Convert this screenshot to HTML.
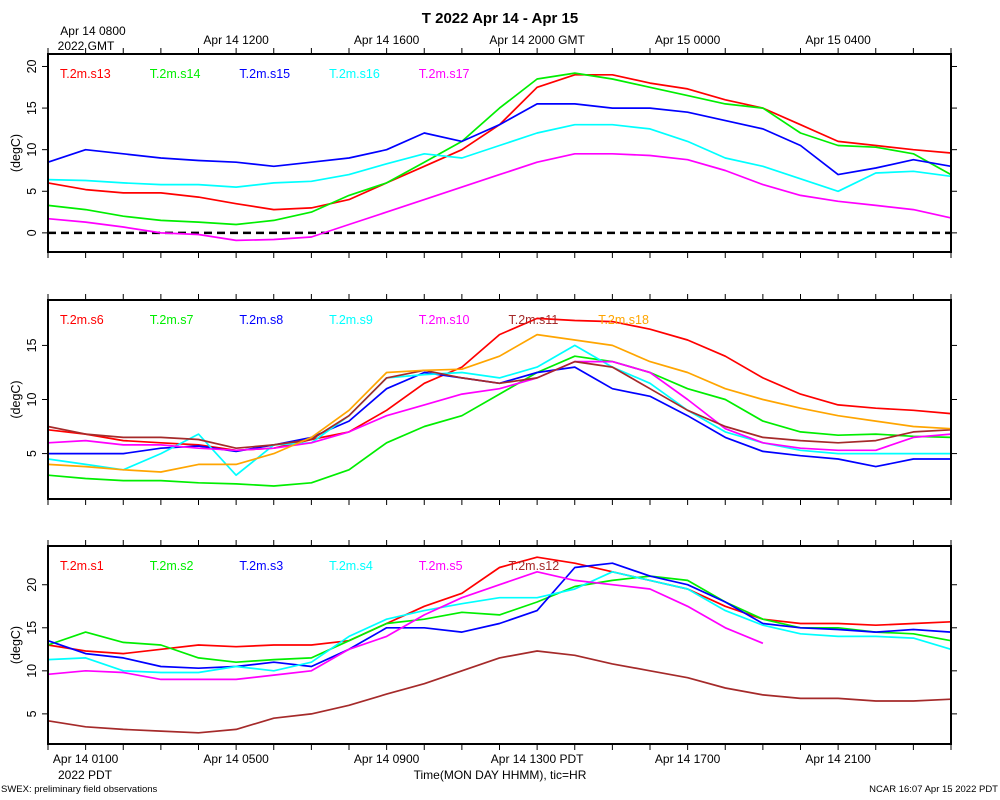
<!DOCTYPE html>
<html><head><meta charset="utf-8"><style>
body{margin:0;background:#fff;}
svg{display:block;font-family:"Liberation Sans",sans-serif;}
</style></head><body>
<svg id="chart" width="1000" height="800" viewBox="0 0 1000 800"></svg>
<script>
// ---- data (hourly, hours since Apr 14 0000 PDT) ----
const hours = [0,1,2,3,4,5,6,7,8,9,10,11,12,13,14,15,16,17,18,19,20,21,22,23,24];
const s13 = [6,5.2,4.8,4.8,4.3,3.5,2.8,3,4,6,8,10,13,17.5,19,19,18,17.3,16,15,13,11,10.5,10,9.6];
const s14 = [3.3,2.8,2,1.5,1.3,1,1.5,2.5,4.5,6,8.5,11,15,18.5,19.2,18.5,17.5,16.5,15.5,15,12,10.5,10.3,9.5,7];
const s15 = [8.5,10,9.5,9,8.7,8.5,8,8.5,9,10,12,11,13,15.5,15.5,15,15,14.5,13.5,12.5,10.5,7,7.8,8.8,8];
const s16 = [6.4,6.3,6,5.8,5.8,5.5,6,6.2,7,8.3,9.5,9,10.5,12,13,13,12.5,11,9,8,6.5,5,7.2,7.4,6.8];
const s17 = [1.7,1.3,0.7,0,-0.2,-0.9,-0.8,-0.5,1,2.5,4,5.5,7,8.5,9.5,9.5,9.3,8.8,7.5,5.8,4.5,3.8,3.3,2.8,1.8];
const s6 = [7.2,6.8,6.2,6,5.8,5.3,5.5,6.3,7,9,11.5,13,16,17.5,17.3,17.2,16.5,15.5,14,12,10.5,9.5,9.2,9,8.7];
const s7 = [3,2.7,2.5,2.5,2.3,2.2,2,2.3,3.5,6,7.5,8.5,10.5,12.5,14,13.5,12.5,11,10,8,7,6.7,6.8,6.6,6.5];
const s8 = [5,5,5,5.5,5.7,5.2,5.8,6.5,8,11,12.5,12,11.5,12.5,13,11,10.3,8.5,6.5,5.2,4.8,4.5,3.8,4.5,4.5];
const s9 = [4.5,4,3.5,5,6.8,3,5.8,6,8.5,12,12.3,12.5,12,13,15,13,11.5,9,7,6,5.3,5,5,5,5];
const s10 = [6,6.2,5.8,5.8,5.5,5.3,5.5,6,7,8.5,9.5,10.5,11,12,13.5,13.5,12.5,10,7.3,6,5.5,5.3,5.3,6.5,6.8];
const s11 = [7.5,6.8,6.5,6.5,6.3,5.5,5.8,6.3,8.5,12,12.7,12,11.5,12,13.5,13,11,9,7.5,6.5,6.2,6,6.2,7,7.2];
const s18 = [4,3.8,3.5,3.3,4,4,5,6.5,9,12.5,12.7,12.8,14,16,15.5,15,13.5,12.5,11,10,9.2,8.5,8,7.5,7.3];
const s1 = [13,12.3,12,12.5,13,12.8,13,13,13.5,15.5,17.5,19,22,23.2,22.5,21.5,20.5,19.5,17.5,16,15.5,15.5,15.3,15.5,15.7];
const s2 = [13,14.5,13.3,13,11.5,11,11.3,11.5,13.5,15.5,16,16.8,16.5,18,19.8,20.5,21,20.5,18,16,15,15,14.5,14.3,13.5];
const s3 = [13.5,12,11.5,10.5,10.3,10.5,11,10.5,12.5,15,15,14.5,15.5,17,22,22.5,21,20,18,15.5,15,14.8,14.5,14.8,14.5];
const s4 = [11.3,11.5,10,9.8,9.8,10.5,10,11,14,16,17,17.8,18.5,18.5,19.5,21.5,20.5,19.5,17,15.3,14.3,14,14,13.8,12.5];
const s5 = [9.6,10,9.8,9,9,9,9.5,10,12.5,14,16.5,18.5,20,21.5,20.5,20,19.5,17.5,15,13.2,null,null,null,null,null];
const s12 = [4.2,3.5,3.2,3,2.8,3.2,4.5,5,6,7.3,8.5,10,11.5,12.3,11.8,10.8,10,9.2,8,7.2,6.8,6.8,6.5,6.5,6.7];
const topLabels = ["Apr 14 1200","Apr 14 1600","Apr 14 2000 GMT","Apr 15 0000","Apr 15 0400"];
const topLabelHours = [5,9,13,17,21];
const bottomLabels = ["Apr 14 0100","Apr 14 0500","Apr 14 0900","Apr 14 1300 PDT","Apr 14 1700","Apr 14 2100"];
const bottomLabelHours = [1,5,9,13,17,21];

const NS="http://www.w3.org/2000/svg";
const svg=document.getElementById('chart');
function mk(tag,attrs,parent){const e=document.createElementNS(NS,tag);for(const k in attrs)e.setAttribute(k,attrs[k]);(parent||svg).appendChild(e);return e;}
const X0=48,X1=951;
function xs(h){return X0+(X1-X0)*h/24;}

const panels=[
 {name:'panel-top',top:54,bot:252,ymin:-2.3,ymax:21.5,ticks:[0,5,10,15,20],
  series:[['T.2m.s13',s13,'#ff0000'],['T.2m.s14',s14,'#00ee00'],['T.2m.s15',s15,'#0000ff'],['T.2m.s16',s16,'#00ffff'],['T.2m.s17',s17,'#ff00ff']],zero:true},
 {name:'panel-middle',top:300,bot:499,ymin:0.8,ymax:19.2,ticks:[5,10,15],
  series:[['T.2m.s6',s6,'#ff0000'],['T.2m.s7',s7,'#00ee00'],['T.2m.s8',s8,'#0000ff'],['T.2m.s9',s9,'#00ffff'],['T.2m.s10',s10,'#ff00ff'],['T.2m.s11',s11,'#a52a2a'],['T.2m.s18',s18,'#ffa500']]},
 {name:'panel-bottom',top:546,bot:744,ymin:1.5,ymax:24.5,ticks:[5,10,15,20],
  series:[['T.2m.s1',s1,'#ff0000'],['T.2m.s2',s2,'#00ee00'],['T.2m.s3',s3,'#0000ff'],['T.2m.s4',s4,'#00ffff'],['T.2m.s5',s5,'#ff00ff'],['T.2m.s12',s12,'#a52a2a']]}
];

const title=mk('text',{x:500,y:23,'text-anchor':'middle','font-size':15,'font-weight':'bold'});
title.textContent='T 2022 Apr 14 - Apr 15';



panels.forEach((p,pi)=>{
  const g=mk('g',{});
  
  
  const ys=v=>p.bot-(v-p.ymin)/(p.ymax-p.ymin)*(p.bot-p.top);
  for(let h=0;h<=24;h++){
    const x=xs(h);
    mk('line',{x1:x,x2:x,y1:p.top,y2:p.top-6,stroke:'#000','stroke-width':1},g);
    mk('line',{x1:x,x2:x,y1:p.bot,y2:p.bot+6,stroke:'#000','stroke-width':1},g);
  }
  p.ticks.forEach(t=>{
    const y=ys(t);
    mk('line',{x1:X0,x2:X0-6,y1:y,y2:y,stroke:'#000'},g);
    mk('line',{x1:X1,x2:X1+6,y1:y,y2:y,stroke:'#000'},g);
    const tx=mk('text',{x:36,y:y,'font-size':12.5,'text-anchor':'middle',transform:`rotate(-90 36 ${y})`},g);
    tx.textContent=String(t);
    
    
  });
  const yl=mk('text',{x:20,y:(p.top+p.bot)/2,'font-size':12.5,'text-anchor':'middle',transform:`rotate(-90 20 ${(p.top+p.bot)/2})`},g);
  yl.textContent='(degC)';
  
  
  if(p.zero){
    const z=mk('line',{x1:X0,x2:X1,y1:ys(0),y2:ys(0),stroke:'#000','stroke-width':2.5,'stroke-dasharray':'8,5'},g);
    
    
  }
  p.series.forEach((s,si)=>{
    let d='';let pen=false;
    s[1].forEach((v,i)=>{
      if(v===null){pen=false;return;}
      d+=(pen?'L':'M')+xs(hours[i]).toFixed(1)+','+ys(v).toFixed(1);pen=true;
    });
    const path=mk('path',{d:d,fill:'none',stroke:s[2],'stroke-width':1.7,'stroke-linejoin':'round'},g);
    
    
    const lt=mk('text',{x:60+si*89.7,y:p.top+24,'font-size':12.5,fill:s[2]},g);
    lt.textContent=s[0];
    
    
  });
  const fr=mk('rect',{x:X0,y:p.top,width:X1-X0,height:p.bot-p.top,fill:'none',stroke:'#000','stroke-width':2},g);
  
  
});

const t0=mk('text',{x:93,y:35,'font-size':12,'text-anchor':'middle'});
t0.textContent='Apr 14 0800';


const t1=mk('text',{x:86,y:50,'font-size':12,'text-anchor':'middle'});
t1.textContent='2022 GMT';


topLabels.forEach((l,i)=>{
  const t=mk('text',{x:xs(topLabelHours[i]),y:44,'font-size':12,'text-anchor':'middle'});
  t.textContent=l;
  
  
});
bottomLabels.forEach((l,i)=>{
  const t=mk('text',{x:xs(bottomLabelHours[i]),y:763,'font-size':12,'text-anchor':'middle'});
  t.textContent=l;
  
  
});
const b1=mk('text',{x:85,y:779,'font-size':12,'text-anchor':'middle'});
b1.textContent='2022 PDT';


const b2=mk('text',{x:500,y:779,'font-size':12,'text-anchor':'middle'});
b2.textContent='Time(MON DAY HHMM), tic=HR';


const f1=mk('text',{x:1,y:792,'font-size':9.5});
f1.textContent='SWEX: preliminary field observations';


const f2=mk('text',{x:998,y:792,'font-size':9.5,'text-anchor':'end'});
f2.textContent='NCAR 16:07 Apr 15 2022 PDT';


</script>
</body></html>
